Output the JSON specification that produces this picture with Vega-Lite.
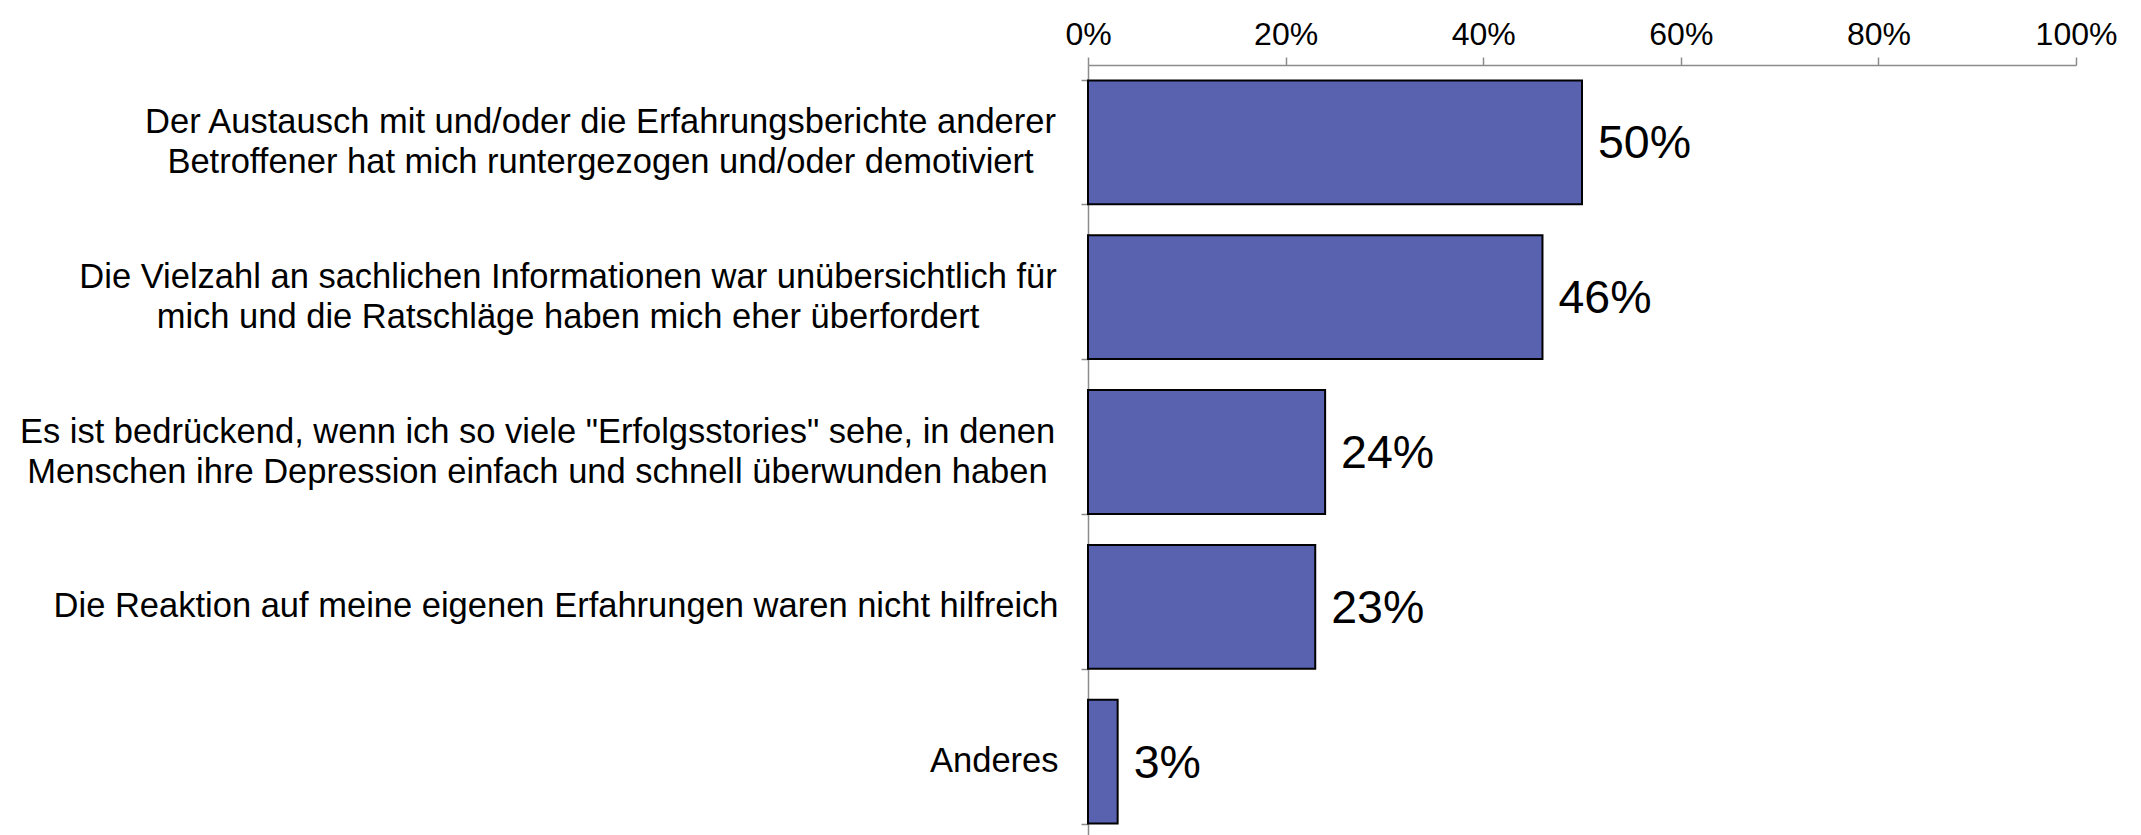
{
  "$schema": "https://vega.github.io/schema/vega-lite/v6.json",
  "autosize": {"type": "none"},
  "padding": {"left": 1088, "top": 65, "right": 65, "bottom": 0},
  "width": 988,
  "height": 774,
  "background": "white",
  "data": {"values": [
    {"cat": "Der Austausch mit und/oder die Erfahrungsberichte anderer|Betroffener hat mich runtergezogen und/oder demotiviert", "value": 0.50},
    {"cat": "Die Vielzahl an sachlichen Informationen war unübersichtlich für|mich und die Ratschläge haben mich eher überfordert", "value": 0.46},
    {"cat": "Es ist bedrückend, wenn ich so viele \"Erfolgsstories\" sehe, in denen|Menschen ihre Depression einfach und schnell überwunden haben", "value": 0.24},
    {"cat": "Die Reaktion auf meine eigenen Erfahrungen waren nicht hilfreich", "value": 0.23},
    {"cat": "Anderes", "value": 0.03}
  ]},
  "encoding": {
    "y": {
      "field": "cat", "type": "nominal", "sort": null, "title": null,
      "scale": {"paddingInner": 0.2, "paddingOuter": 0.1},
      "axis": {
        "labelExpr": "isString(datum.value) ? split(datum.value, '|') : ''",
        "labelFont": "Liberation Sans", "labelFontSize": 34.5, "labelColor": "black",
        "labelLineHeight": 40, "labelLimit": 2000,
        "labelAlign": {"condition": {"test": "isString(datum.value) && indexof(datum.value, '|') >= 0", "value": "center"}, "value": "right"},
        "labelPadding": {"condition": [
          {"test": "isString(datum.value) && indexof(datum.value, 'Der Austausch') == 0", "value": 481},
          {"test": "isString(datum.value) && indexof(datum.value, 'Die Vielzahl') == 0", "value": 513.5},
          {"test": "isString(datum.value) && indexof(datum.value, 'Es ist') == 0", "value": 544}
        ], "value": 23},
        "labelOffset": {"condition": {"test": "isString(datum.value) && indexof(datum.value, '|') >= 0", "value": -20}, "value": 0},
        "tickBand": "extent", "tickSize": 7, "tickColor": "#8c8c8c", "tickWidth": 1.5,
        "domainColor": "#8c8c8c", "domainWidth": 1.5, "grid": false
      }
    },
    "x": {
      "field": "value", "type": "quantitative",
      "scale": {"domain": [0, 1]},
      "axis": {
        "orient": "top", "title": null, "format": ".0%", "values": [0, 0.2, 0.4, 0.6, 0.8, 1],
        "labelFont": "Liberation Sans", "labelFontSize": 32, "labelColor": "black",
        "labelPadding": 6, "tickSize": 8, "tickColor": "#8c8c8c", "tickWidth": 1.5,
        "domainColor": "#8c8c8c", "domainWidth": 1.5, "grid": false, "labelFlush": false
      }
    }
  },
  "layer": [
    {"mark": {"type": "bar", "color": "#5962AE", "stroke": "black", "strokeWidth": 2}},
    {"mark": {"type": "text", "align": "left", "baseline": "middle", "dx": 16, "dy": 2, "font": "Liberation Sans", "fontSize": 46.5, "color": "black"},
     "encoding": {"text": {"field": "value", "type": "quantitative", "format": ".0%"}}}
  ],
  "config": {"view": {"stroke": null}}
}
